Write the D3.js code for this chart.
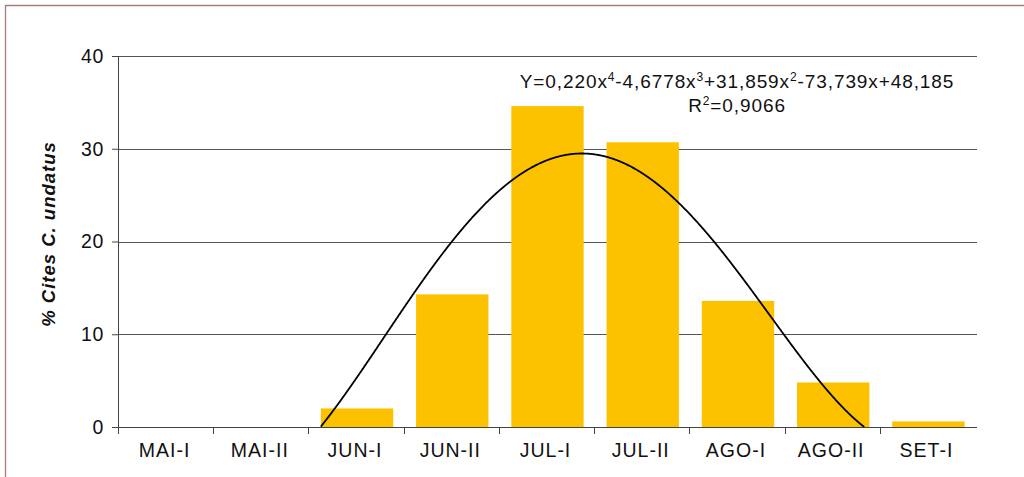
<!DOCTYPE html>
<html>
<head>
<meta charset="utf-8">
<script src="https://cdn.jsdelivr.net/npm/d3@7"></script>
<style>
  html, body { margin: 0; padding: 0; background: #fff; }
  svg { display: block; font-family: "Liberation Sans", Arial, Helvetica, sans-serif; }
</style>
</head>
<body>
<svg id="chart" width="1024" height="477"></svg>
<script>
// Fortnight periods and share of C. undatus records (%)
const categories = ["MAI-I", "MAI-II", "JUN-I", "JUN-II", "JUL-I", "JUL-II", "AGO-I", "AGO-II", "SET-I"];
const values = [0, 0, 2.0, 14.3, 34.6, 30.7, 13.6, 4.8, 0.6];
const yTicks = [0, 10, 20, 30, 40];
// Quartic trendline coefficients, highest power first (x = period index 1..9)
const trendCoefs = [0.220, -4.6778, 31.859, -73.739, 48.185];
// equation pieces: [text, superscript]
const trendParts = [["Y=0,220x", "4"], ["-4,6778x", "3"], ["+31,859x", "2"], ["-73,739x+48,185", ""]];
const r2Parts = [["R", "2"], ["=0,9066", ""]];

const svg = d3.select("#chart");
const W = 1024, H = 477;
const margin = { left: 118, right: 47, top: 56, bottom: 50 };
const plotW = W - margin.left - margin.right;
const plotH = H - margin.top - margin.bottom;

// page frame
svg.append("path")
  .attr("d", `M5.5,${H} L5.5,5.5 L${W},5.5`)
  .attr("fill", "none").attr("stroke", "#a08272").attr("stroke-width", 1.3);

const g = svg.append("g").attr("transform", `translate(${margin.left},${margin.top})`);

const x = d3.scaleBand().domain(categories).range([0, plotW]).paddingInner(0.24).paddingOuter(0.13);
const y = d3.scaleLinear().domain([0, 40]).range([plotH, 0]);

// horizontal gridlines
g.append("g").selectAll("line").data(yTicks.filter(d => d > 0)).join("line")
  .attr("x1", 0).attr("x2", plotW)
  .attr("y1", d => Math.round(y(d)) + 0.5).attr("y2", d => Math.round(y(d)) + 0.5)
  .attr("stroke", "#555").attr("stroke-width", 1);

// bars
g.append("g").selectAll("rect").data(values).join("rect")
  .attr("x", (d, i) => x(categories[i]))
  .attr("width", x.bandwidth())
  .attr("y", d => y(d))
  .attr("height", d => plotH - y(d))
  .attr("fill", "#fcc200");

// trendline: the positive hump of the polynomial around its maximum
const poly = t => trendCoefs.reduce((acc, c) => acc * t + c, 0);
const step = x.step();
const xc = t => (t - 0.5) * step;
const samples = d3.range(1, 9.0001, 0.005).map(t => [t, poly(t)]);
const peak = samples.reduce((a, b) => (b[1] > a[1] ? b : a));
const iPeak = samples.indexOf(peak);
let lo = iPeak, hi = iPeak;
while (lo > 0 && samples[lo - 1][1] >= 0) lo--;
while (hi < samples.length - 1 && samples[hi + 1][1] >= 0) hi++;
const hump = samples.slice(lo, hi + 1);
g.append("path")
  .datum(hump)
  .attr("d", d3.line().x(d => xc(d[0])).y(d => y(Math.max(0, d[1]))))
  .attr("fill", "none").attr("stroke", "#000").attr("stroke-width", 1.8);

// y axis
const yAxis = d3.axisLeft(y).tickValues(yTicks).tickSize(6).tickPadding(8);
const ya = g.append("g").call(yAxis);
ya.select(".domain").attr("stroke", "#444").attr("d", `M0.5,0V${plotH}`);
ya.selectAll(".tick line").attr("stroke", "#444");
ya.selectAll("text").attr("font-size", 19.5).attr("fill", "#111").attr("letter-spacing", 0.6)
  .attr("font-family", "'Liberation Sans', Arial, sans-serif");

// x axis with ticks at the category boundaries
const xa = g.append("g").attr("transform", `translate(0,${plotH})`);
xa.append("line").attr("x1", 0).attr("x2", plotW).attr("y1", 0.5).attr("y2", 0.5)
  .attr("stroke", "#444").attr("stroke-width", 1.2);
xa.selectAll(".bt").data(d3.range(0, categories.length)).join("line")
  .attr("class", "bt")
  .attr("x1", i => Math.round(i * step) + 0.5).attr("x2", i => Math.round(i * step) + 0.5)
  .attr("y1", 0).attr("y2", 7)
  .attr("stroke", "#444");
xa.selectAll("text").data(categories).join("text")
  .attr("x", d => x(d) + x.bandwidth() / 2 - 2)
  .attr("y", 30)
  .attr("text-anchor", "middle")
  .attr("font-size", 19.5).attr("letter-spacing", 1).attr("fill", "#111")
  .text(d => d);

// y axis title
svg.append("text")
  .attr("transform", `translate(55,234) rotate(-90)`)
  .attr("text-anchor", "middle")
  .attr("font-size", 18.5).attr("font-weight", "bold").attr("font-style", "italic")
  .attr("letter-spacing", 1)
  .attr("fill", "#111")
  .text("% Cites C. undatus");

// trendline equation with raised exponents
function writeParts(sel, parts) {
  let raised = false;
  parts.forEach(([base, sup]) => {
    sel.append("tspan").attr("dy", raised ? 7 : null).text(base);
    raised = false;
    if (sup) {
      sel.append("tspan").attr("font-size", 12).attr("dy", -7).text(sup);
      raised = true;
    }
  });
}
const eq = svg.append("g").attr("font-size", 19).attr("letter-spacing", 0.9)
  .attr("fill", "#111").attr("text-anchor", "middle");
writeParts(eq.append("text").attr("x", 737).attr("y", 87.5), trendParts);
writeParts(eq.append("text").attr("x", 737).attr("y", 112), r2Parts);
</script>
</body>
</html>
